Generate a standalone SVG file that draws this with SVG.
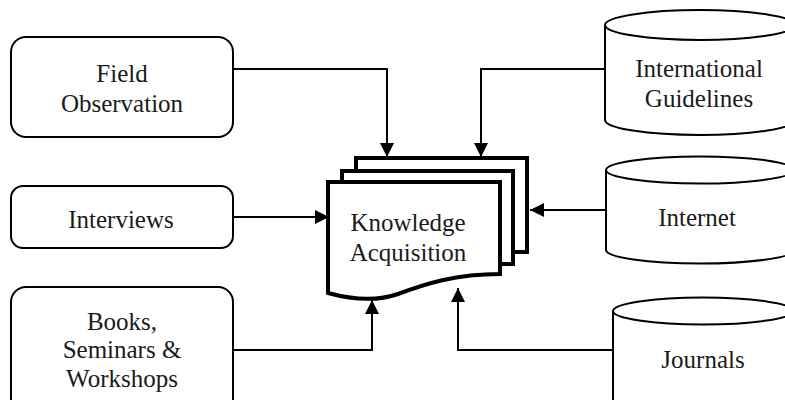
<svg xmlns="http://www.w3.org/2000/svg" width="785" height="400" viewBox="0 0 785 400">
<style>
.box{fill:#fff;stroke:#000;stroke-width:2}
.cyl{fill:#fff;stroke:#000;stroke-width:2}
.doc{fill:#fff;stroke:#000;stroke-width:4;stroke-linejoin:miter}
.conn{fill:none;stroke:#000;stroke-width:2}
.t{font-size:25px;fill:#1a1a1a;text-anchor:middle}
</style>
<defs>
<marker id="arr" viewBox="0 0 14 14" refX="14" refY="7" markerWidth="14" markerHeight="14" markerUnits="userSpaceOnUse" orient="auto">
<path d="M0,0 L14,7 L0,14 Z" fill="#000"/>
</marker>
</defs>
<g id="field-observation">
<rect class="box" x="11" y="37" width="222" height="100" rx="15"/>
<text class="t" font-family="Liberation Serif" x="122" y="82">Field</text>
<text class="t" font-family="Liberation Serif" x="122" y="112">Observation</text>
</g>
<g id="interviews">
<rect class="box" x="11" y="186" width="222" height="62" rx="12"/>
<text class="t" font-family="Liberation Serif" x="121" y="228">Interviews</text>
</g>
<g id="books">
<rect class="box" x="11" y="287" width="222" height="130" rx="15"/>
<text class="t" font-family="Liberation Serif" x="122" y="330">Books,</text>
<text class="t" font-family="Liberation Serif" x="122" y="358">Seminars &amp;</text>
<text class="t" font-family="Liberation Serif" x="122" y="387">Workshops</text>
</g>
<g id="international-guidelines">
<path class="cyl" d="M605,25 V120 A95,15 0 0 0 795,120 V25"/>
<ellipse class="cyl" cx="700" cy="25" rx="95" ry="15"/>
<text class="t" font-family="Liberation Serif" x="699" y="77">International</text>
<text class="t" font-family="Liberation Serif" x="699" y="107">Guidelines</text>
</g>
<g id="internet">
<path class="cyl" d="M606,170 V250 A94,13.5 0 0 0 794,250 V170"/>
<ellipse class="cyl" cx="700" cy="170" rx="94" ry="13.5"/>
<text class="t" font-family="Liberation Serif" x="697" y="226">Internet</text>
</g>
<g id="journals">
<path class="cyl" d="M613,311 V420 H793 V311"/>
<ellipse class="cyl" cx="703" cy="311" rx="90" ry="13.5"/>
<text class="t" font-family="Liberation Serif" x="703" y="368">Journals</text>
</g>
<g id="knowledge-acquisition">
<rect class="doc" x="356" y="158" width="171" height="94"/>
<rect class="doc" x="342" y="171" width="171" height="93"/>
<path class="doc" d="M328,182 H500 V274 C455,274 425,284 398,294 C375,302 350,299 328,293 Z"/>
<text class="t" font-family="Liberation Serif" x="408" y="231">Knowledge</text>
<text class="t" font-family="Liberation Serif" x="408" y="261">Acquisition</text>
</g>
<g id="connectors">
<path class="conn" d="M233,69 H387 V157" marker-end="url(#arr)"/>
<path class="conn" d="M605,69 H481 V157" marker-end="url(#arr)"/>
<path class="conn" d="M233,217 H329" marker-end="url(#arr)"/>
<path class="conn" d="M606,210 H530" marker-end="url(#arr)"/>
<path class="conn" d="M233,350 H372 V300" marker-end="url(#arr)"/>
<path class="conn" d="M613,350 H458 V288" marker-end="url(#arr)"/>
</g>
</svg>
